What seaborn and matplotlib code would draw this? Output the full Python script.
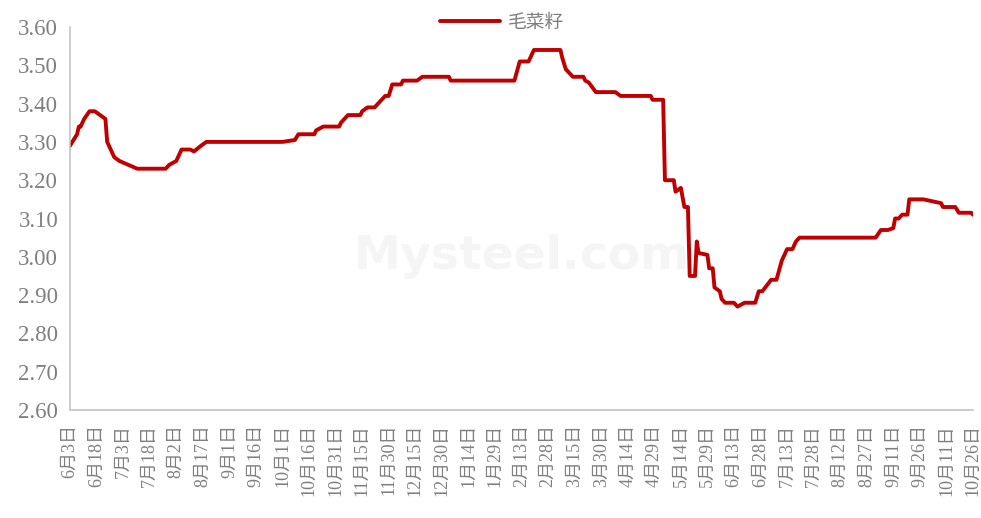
import pandas as pd
import matplotlib.pyplot as plt
import seaborn as sns

# price turning points (daily series, straight between points)
dates = ['2020-06-03', '2020-06-07', '2020-06-08', '2020-06-09', '2020-06-11', '2020-06-14',
         '2020-06-17', '2020-06-20', '2020-06-23', '2020-06-24', '2020-06-28', '2020-07-01',
         '2020-07-06', '2020-07-11', '2020-07-27', '2020-07-29', '2020-08-02', '2020-08-05',
         '2020-08-10', '2020-08-12', '2020-08-16', '2020-08-19', '2020-10-01', '2020-10-08',
         '2020-10-10', '2020-10-19', '2020-10-20', '2020-10-24', '2020-11-02', '2020-11-03',
         '2020-11-07', '2020-11-14', '2020-11-15', '2020-11-18', '2020-11-22', '2020-11-24',
         '2020-11-28', '2020-11-30', '2020-12-02', '2020-12-07', '2020-12-08', '2020-12-16',
         '2020-12-19', '2021-01-03', '2021-01-04', '2021-02-09', '2021-02-12', '2021-02-17',
         '2021-02-20', '2021-03-07', '2021-03-08', '2021-03-10', '2021-03-12', '2021-03-14',
         '2021-03-20', '2021-03-21', '2021-03-23', '2021-03-27', '2021-04-07', '2021-04-10',
         '2021-04-27', '2021-04-28', '2021-05-04', '2021-05-05', '2021-05-10', '2021-05-11',
         '2021-05-14', '2021-05-16', '2021-05-18', '2021-05-19', '2021-05-22', '2021-05-23',
         '2021-05-24', '2021-05-29', '2021-05-30', '2021-06-01', '2021-06-02', '2021-06-05',
         '2021-06-06', '2021-06-08', '2021-06-13', '2021-06-15', '2021-06-19', '2021-06-25',
         '2021-06-27', '2021-06-29', '2021-07-04', '2021-07-07', '2021-07-10', '2021-07-13',
         '2021-07-16', '2021-07-18', '2021-07-20', '2021-09-01', '2021-09-04', '2021-09-08',
         '2021-09-11', '2021-09-12', '2021-09-14', '2021-09-16', '2021-09-19', '2021-09-20',
         '2021-09-28', '2021-10-08', '2021-10-09', '2021-10-16', '2021-10-18', '2021-10-25',
         '2021-10-26']
prices = [3.29, 3.32, 3.34, 3.34, 3.36, 3.38,
          3.38, 3.37, 3.36, 3.30, 3.26, 3.25,
          3.24, 3.23, 3.23, 3.24, 3.25, 3.28,
          3.28, 3.275, 3.29, 3.30, 3.30, 3.305,
          3.32, 3.32, 3.33, 3.34, 3.34, 3.35,
          3.37, 3.37, 3.38, 3.39, 3.39, 3.40,
          3.42, 3.42, 3.45, 3.45, 3.46, 3.46,
          3.47, 3.47, 3.46, 3.46, 3.51, 3.51,
          3.54, 3.54, 3.52, 3.49, 3.48, 3.47,
          3.47, 3.46, 3.455, 3.43, 3.43, 3.42,
          3.42, 3.41, 3.41, 3.20, 3.20, 3.17,
          3.18, 3.13, 3.13, 2.95, 2.95, 3.04,
          3.01, 3.005, 2.97, 2.97, 2.92, 2.91,
          2.89, 2.88, 2.88, 2.87, 2.88, 2.88,
          2.91, 2.91, 2.94, 2.94, 2.99, 3.02,
          3.02, 3.04, 3.05, 3.05, 3.07, 3.07,
          3.075, 3.10, 3.10, 3.11, 3.11, 3.15,
          3.15, 3.14, 3.13, 3.13, 3.115, 3.115,
          3.11]
series_name = '毛菜籽'
yticks = [2.60, 2.70, 2.80, 2.90, 3.00, 3.10, 3.20, 3.30, 3.40, 3.50, 3.60]

df = pd.DataFrame({'date': pd.to_datetime(dates), 'price': prices, 'name': series_name})

sns.set_style('white')
plt.rcParams['font.family'] = ['Liberation Serif', 'Noto Sans CJK SC', 'DejaVu Sans']

red = '#C00000'
grey_text = '#7f7f7f'
grey_axis = '#bfbfbf'

fig = plt.figure(figsize=(9.81, 5.18), dpi=100)
ax = fig.add_axes([70/981, 108/518, 903/981, 383/518])

sns.lineplot(data=df, x='date', y='price', hue='name', palette=[red],
             linewidth=2.8, ax=ax, legend=True)

# faint watermark
ax.text(0.5, 0.4, 'Mysteel.com', transform=ax.transAxes, ha='center', va='center',
        fontsize=34, color='#f5f5f5', family='DejaVu Sans', fontweight='bold', zorder=0)

start = pd.Timestamp('2020-06-03')
end = pd.Timestamp('2021-10-26')
ticks = pd.date_range(start, end, freq='15D')
ax.set_xlim(start, end)
ax.set_xticks(ticks)
ax.set_xticklabels([f'{d.month}月{d.day}日' for d in ticks], rotation=90,
                   fontsize=13, color=grey_text, va='top', ha='center')

ax.set_ylim(2.60, 3.60)
ax.set_yticks(yticks)
ax.set_yticklabels([f'{v:.2f}' for v in yticks], fontsize=16.5, color=grey_text)

ax.set_xlabel('')
ax.set_ylabel('')

for side in ['top', 'right']:
    ax.spines[side].set_visible(False)
for side in ['left', 'bottom']:
    ax.spines[side].set_color(grey_axis)
    ax.spines[side].set_linewidth(1.1)

ax.tick_params(axis='x', direction='out', length=4, width=1, color=grey_axis, pad=6)
ax.tick_params(axis='y', direction='out', length=6.5, width=1, color=grey_axis, pad=2)

handles, labels = ax.get_legend_handles_labels()
ax.get_legend().remove()
fig.legend(handles, labels, loc='center', bbox_to_anchor=(502/981, 1 - 22/518),
           frameon=False, handlelength=3.2, handletextpad=0.4,
           prop={'family': ['Noto Sans CJK SC'], 'size': 13.5}, labelcolor=grey_text)

plt.savefig('out.png', dpi=100)
